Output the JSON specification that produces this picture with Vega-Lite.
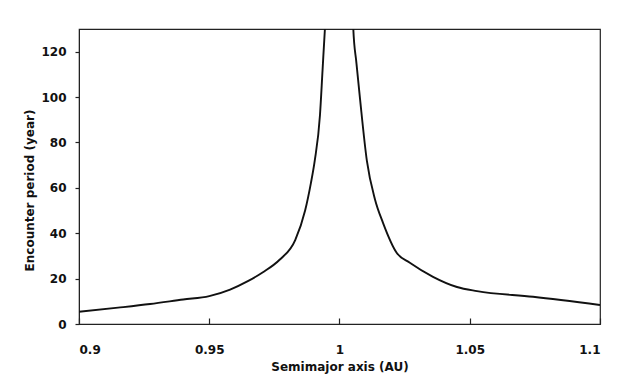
{
  "$schema": "https://vega.github.io/schema/vega-lite/v6.json",
  "width": 521,
  "height": 295,
  "autosize": {"type": "none"},
  "padding": {"left": 79, "top": 29, "right": 27, "bottom": 67},
  "background": "white",
  "config": {
    "view": {"stroke": "#222", "strokeWidth": 1.2},
    "font": "DejaVu Sans",
    "axis": {
      "labelFont": "DejaVu Sans", "labelFontWeight": "bold", "labelFontSize": 12, "labelColor": "#111",
      "titleFont": "DejaVu Sans", "titleFontWeight": "bold", "titleFontSize": 12, "titleColor": "#111",
      "domainColor": "#222", "tickColor": "#222", "grid": false, "ticks": true, "tickWidth": 1.2
    },
    "axisX": {"tickSize": -6}
  },
  "data": {
    "values": [
      {"a": 0.9, "t": 5.4},
      {"a": 0.915, "t": 7.2},
      {"a": 0.9273, "t": 8.8},
      {"a": 0.94, "t": 10.8},
      {"a": 0.95, "t": 12.3},
      {"a": 0.958, "t": 15.2},
      {"a": 0.965, "t": 19.0},
      {"a": 0.9706, "t": 22.8},
      {"a": 0.977, "t": 28.3},
      {"a": 0.983, "t": 37},
      {"a": 0.9868, "t": 50},
      {"a": 0.989, "t": 62},
      {"a": 0.9905, "t": 72},
      {"a": 0.9925, "t": 92},
      {"a": 0.9935, "t": 112},
      {"a": 0.9944, "t": 130},
      {"a": 0.995, "t": 140},
      {"a": 1.005, "t": 140},
      {"a": 1.0053, "t": 130},
      {"a": 1.0065, "t": 115},
      {"a": 1.0079, "t": 99},
      {"a": 1.0105, "t": 72},
      {"a": 1.0136, "t": 55},
      {"a": 1.0167, "t": 44.6},
      {"a": 1.022, "t": 31.3},
      {"a": 1.027, "t": 27},
      {"a": 1.0359, "t": 20.8},
      {"a": 1.0451, "t": 16.3},
      {"a": 1.0528, "t": 14.5},
      {"a": 1.0743, "t": 12},
      {"a": 1.1, "t": 8.4}
    ]
  },
  "mark": {"type": "line", "color": "#111", "strokeWidth": 1.9, "clip": true, "interpolate": "monotone"},
  "encoding": {
    "x": {
      "field": "a", "type": "quantitative",
      "scale": {"domain": [0.9, 1.1], "nice": false, "zero": false},
      "axis": {"values": [0.9, 0.95, 1, 1.05, 1.1], "format": "~g", "labelPadding": 26, "title": "Semimajor axis (AU)", "titlePadding": 6}
    },
    "y": {
      "field": "t", "type": "quantitative",
      "scale": {"domain": [0, 130], "nice": false},
      "axis": {"values": [0, 20, 40, 60, 80, 100, 120], "tickSize": 4, "labelPadding": 9, "title": "Encounter period (year)", "titlePadding": 4, "titleY": 161}
    }
  }
}
